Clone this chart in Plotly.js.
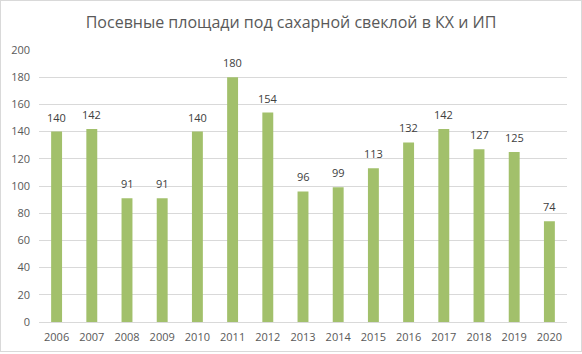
<!DOCTYPE html>
<html>
<head>
<meta charset="utf-8">
<script src="https://cdn.plot.ly/plotly-3.0.1.min.js"></script>
<style>
html,body{margin:0;padding:0;background:#fff;}
#chart{position:absolute;left:0;top:0;width:580px;height:350px;border:1px solid #d9d9d9;}
</style>
</head>
<body>
<div id="chart"></div>
<script>
const years = ["2006","2007","2008","2009","2010","2011","2012","2013","2014","2015","2016","2017","2018","2019","2020"];
const values = [140,142,91,91,140,180,154,96,99,113,132,142,127,125,74];
const yTicks = [0,20,40,60,80,100,120,140,160,180,200];

const trace = {
  type: "bar",
  x: years,
  y: values,
  marker: {color: "#A2C06B"},
  hoverinfo: "x+y"
};

// data labels: positioned at each category (by index) and value
const labels = years.map((yr, i) => ({
  x: i,
  y: values[i],
  xref: "x",
  yref: "y",
  text: String(values[i]),
  showarrow: false,
  yanchor: "bottom",
  yshift: 5,
  font: {family: "'Open Sans', 'Liberation Sans', sans-serif", size: 11, color: "#404040"}
}));

const layout = {
  width: 580,
  height: 350,
  margin: {l: 38, r: 14, t: 49, b: 29},
  paper_bgcolor: "#ffffff",
  plot_bgcolor: "#ffffff",
  bargap: 0.69,
  showlegend: false,
  annotations: labels,
  title: {
    text: "Посевные площади под сахарной свеклой в КХ и ИП",
    font: {family: "'Open Sans', 'Liberation Sans', sans-serif", size: 16, color: "#595959"},
    x: 0.5, xanchor: "center", y: 0.94, yanchor: "middle"
  },
  xaxis: {
    type: "category",
    categoryarray: years,
    range: [-0.5, years.length - 0.5],
    tickfont: {family: "'Open Sans', 'Liberation Sans', sans-serif", size: 11, color: "#595959"},
    showgrid: false,
    showline: true,
    linecolor: "#d9d9d9",
    linewidth: 1,
    ticks: "",
    ticklen: 0,
    ticklabelstandoff: 5
  },
  yaxis: {
    range: [0, 200],
    tickvals: yTicks,
    ticktext: yTicks.map(String),
    tickfont: {family: "'Open Sans', 'Liberation Sans', sans-serif", size: 11, color: "#595959"},
    showgrid: true,
    gridcolor: "#d9d9d9",
    gridwidth: 1,
    zeroline: false,
    showline: false,
    ticks: "",
    ticklabelstandoff: 8
  }
};

Plotly.newPlot("chart", [trace], layout, {displayModeBar: false, staticPlot: true});
</script>
</body>
</html>
